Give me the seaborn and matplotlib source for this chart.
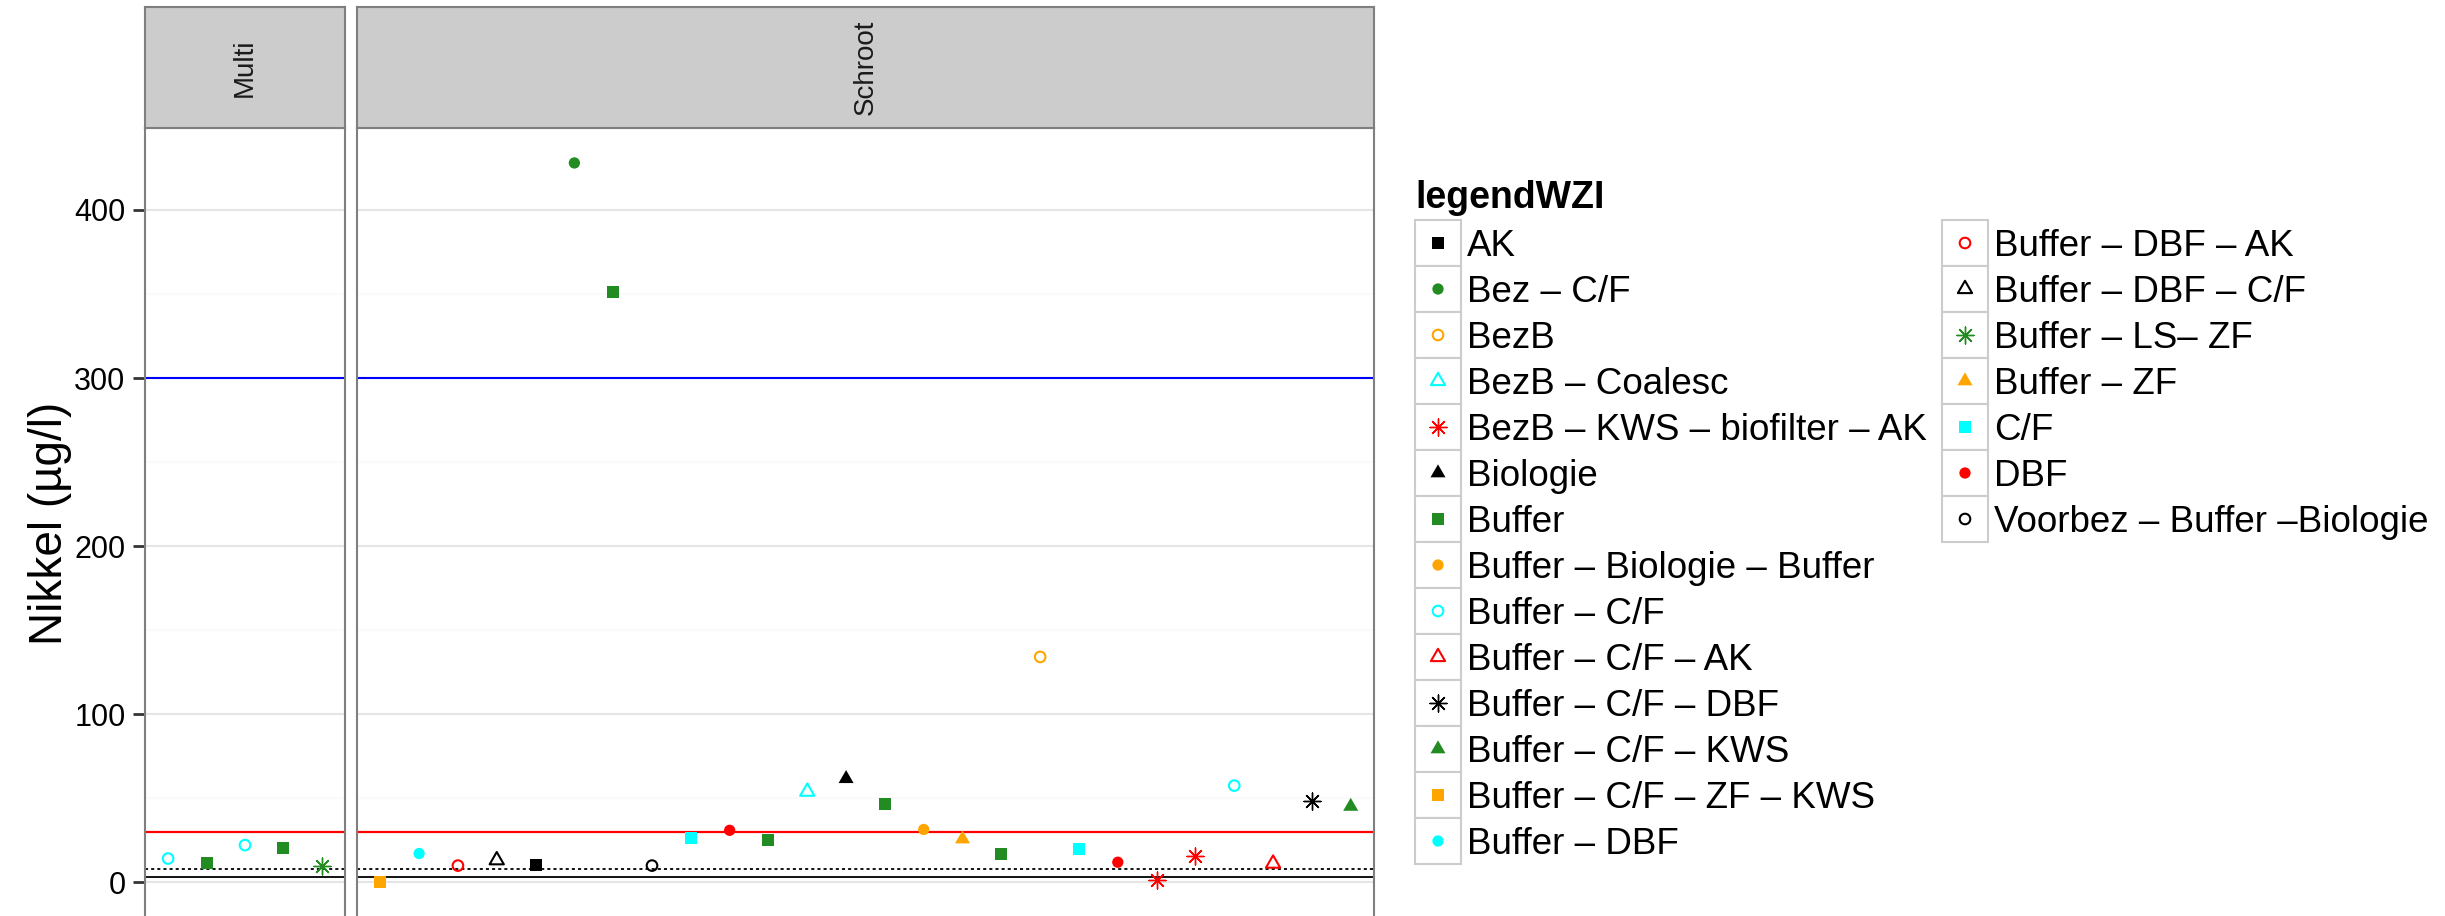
import numpy as np
import pandas as pd
import matplotlib
matplotlib.use("Agg")
import matplotlib.pyplot as plt
from matplotlib.patches import Rectangle
from matplotlib.path import Path
from matplotlib.ticker import FixedLocator
import seaborn as sns

# ---------------------------------------------------------------- data
multi_groups = ["Buffer – C/F", "Buffer", "Buffer – C/F", "Buffer", "Buffer – LS– ZF"]
multi_values = [14, 11.2, 22, 20.2, 9.6]

schroot_groups = [
    "Buffer – C/F – ZF – KWS", "Buffer – DBF", "Buffer – DBF – AK", "Buffer – DBF – C/F",
    "AK", "Bez – C/F", "Buffer", "Voorbez – Buffer –Biologie", "C/F", "DBF", "Buffer",
    "BezB – Coalesc", "Biologie", "Buffer", "Buffer – Biologie – Buffer", "Buffer – ZF",
    "Buffer", "BezB", "C/F", "DBF", "BezB – KWS – biofilter – AK",
    "BezB – KWS – biofilter – AK", "Buffer – C/F", "Buffer – C/F – AK",
    "Buffer – C/F – DBF", "Buffer – C/F – KWS",
]
schroot_values = [0, 17, 9.8, 13, 10.2, 428, 351, 9.8, 26.4, 30.8, 25.2, 53.8, 61.5,
                  46.6, 31.3, 25.6, 16.7, 134, 19.8, 11.8, 1.4, 15.4, 57.4, 11, 48, 45]

legend_levels = [
    "AK", "Bez – C/F", "BezB", "BezB – Coalesc", "BezB – KWS – biofilter – AK",
    "Biologie", "Buffer", "Buffer – Biologie – Buffer", "Buffer – C/F",
    "Buffer – C/F – AK", "Buffer – C/F – DBF", "Buffer – C/F – KWS",
    "Buffer – C/F – ZF – KWS", "Buffer – DBF", "Buffer – DBF – AK",
    "Buffer – DBF – C/F", "Buffer – LS– ZF", "Buffer – ZF", "C/F", "DBF",
    "Voorbez – Buffer –Biologie",
]

# reference levels (µg/l)
limit_blue = 300
limit_red = 30
limit_dotted = 7.5
limit_solid = 3

y_ticks = [0, 100, 200, 300, 400]
y_minor = [50, 150, 250, 350]

# ---------------------------------------------------------------- styling
palette_cycle = ["#000000", "#228B22", "#FFA500", "#00FFFF", "#FF0000"]
shape_cycle = ["square", "circle", "open_circle", "open_triangle", "asterisk", "triangle"]
level_color = {lv: palette_cycle[i % 5] for i, lv in enumerate(legend_levels)}
level_shape = {lv: shape_cycle[i % 6] for i, lv in enumerate(legend_levels)}

# equilateral triangle centred on its centroid, closed so the outline is complete
TRI = Path([(0, 1), (0.866, -0.5), (-0.866, -0.5), (0, 1)],
           [Path.MOVETO, Path.LINETO, Path.LINETO, Path.CLOSEPOLY])
shape_spec = {
    "square": dict(marker="s", s=74, linewidth=0),
    "circle": dict(marker="o", s=66, linewidth=0),
    "open_circle": dict(marker="o", s=58, linewidth=1.5),
    "open_triangle": dict(marker=TRI, s=140, linewidth=1.5),
    "triangle": dict(marker=TRI, s=156, linewidth=0),
    "asterisk": dict(marker=(8, 2, 0), s=149, linewidth=1.0),
}


def marker_kws(level):
    shape = level_shape[level]
    color = level_color[level]
    kw = dict(shape_spec[shape])
    if shape.startswith("open"):
        kw.update(facecolor="none", edgecolor=color)
    elif shape == "asterisk":
        kw.update(color=color)
    else:
        kw.update(color=color, edgecolor="none")
    return kw


df = pd.concat([
    pd.DataFrame({"facet": "Multi", "sample": np.arange(1, len(multi_values) + 1),
                  "legendWZI": multi_groups, "Nikkel": multi_values}),
    pd.DataFrame({"facet": "Schroot", "sample": np.arange(1, len(schroot_values) + 1),
                  "legendWZI": schroot_groups, "Nikkel": schroot_values}),
], ignore_index=True)

sns.set_theme(style="white")
plt.rcParams["font.family"] = ["Liberation Sans", "DejaVu Sans"]

W, H = 2445, 916
fig = plt.figure(figsize=(W / 100, H / 100), dpi=100)


def px_rect(x0, y0, x1, y1):
    return [x0 / W, 1 - y1 / H, (x1 - x0) / W, (y1 - y0) / H]


panel_top, strip_top = 128, 7
panel_bounds = {"Multi": (145, 345), "Schroot": (357, 1374)}
border = "#7F7F7F"

for facet, (x0, x1) in panel_bounds.items():
    sub = df[df["facet"] == facet]
    n = len(sub)
    ax = fig.add_axes(px_rect(x0, panel_top, x1, H))
    ax.set_facecolor("white")
    ax.set_xlim(0.4, n + 0.6)
    ax.set_ylim(-20.2, 448.8)
    ax.yaxis.set_major_locator(FixedLocator(y_ticks))
    ax.yaxis.set_minor_locator(FixedLocator(y_minor))
    ax.grid(False)
    ax.yaxis.grid(True, which="major", color="#E5E5E5", linewidth=1.5)
    ax.yaxis.grid(True, which="minor", color="#FAFAFA", linewidth=1.5)
    ax.set_axisbelow(True)
    ax.set_xticks([])

    ax.axhline(limit_blue, color="#0000FF", linewidth=1.5, zorder=1.5)
    ax.axhline(limit_red, color="#FF0000", linewidth=1.6, zorder=1.5)
    ax.axhline(limit_dotted, color="black", linewidth=1.3, linestyle=(0, (1.7, 1.7)), zorder=1.5)
    ax.axhline(limit_solid, color="black", linewidth=1.3, zorder=1.5)

    for level, grp in sub.groupby("legendWZI", sort=False):
        sns.scatterplot(data=grp, x="sample", y="Nikkel", ax=ax, zorder=3,
                        legend=False, **marker_kws(level))
    ax.set_xlabel("")
    ax.set_ylabel("")

    for side in ["left", "right", "top"]:
        ax.spines[side].set_visible(True)
        ax.spines[side].set_color(border)
        ax.spines[side].set_linewidth(1.5)
    ax.spines["bottom"].set_visible(False)

    ax.tick_params(axis="y", which="minor", length=0)
    if facet == "Multi":
        ax.tick_params(axis="y", which="major", left=True, length=8.6, width=2,
                       color="#333333", pad=5.5, labelsize=22, labelcolor="black")
    else:
        ax.tick_params(axis="y", which="both", left=False, labelleft=False)

    strip = fig.add_axes(px_rect(x0, strip_top, x1, panel_top))
    strip.set_facecolor("#CCCCCC")
    strip.set_xticks([])
    strip.set_yticks([])
    for sp in strip.spines.values():
        sp.set_color(border)
        sp.set_linewidth(1.5)
    strip.text(0.5, 0.5, facet, rotation=90, ha="center", va="center",
               fontsize=20, color="#1A1A1A", transform=strip.transAxes)

fig.text(50 / W, 1 - 523 / H, "Nikkel (µg/l)", rotation=90, ha="center",
         va="center", fontsize=33, color="black")

# ---------------------------------------------------------------- legend
lg = fig.add_axes([0, 0, 1, 1])
lg.set_xlim(0, W)
lg.set_ylim(H, 0)
lg.axis("off")
lg.patch.set_visible(False)

lg.text(1415, 208, "legendWZI", fontsize=27, fontweight="bold",
        ha="left", va="baseline", color="black")

rows_per_col = 14
key = 46
col_x = [1415, 1942]
row_y0 = 220
for i, level in enumerate(legend_levels):
    col, row = divmod(i, rows_per_col)
    kx = col_x[col]
    ky = row_y0 + key * row
    lg.add_patch(Rectangle((kx, ky), key, key, facecolor="white",
                           edgecolor="#CCCCCC", linewidth=1.5))
    lg.scatter([kx + key / 2], [ky + key / 2], zorder=3, **marker_kws(level))
    lg.text(kx + key + 6, ky + key / 2 + 13, level, fontsize=26.5,
            ha="left", va="baseline", color="black")

fig.savefig("out.png", dpi=100, facecolor="white")
